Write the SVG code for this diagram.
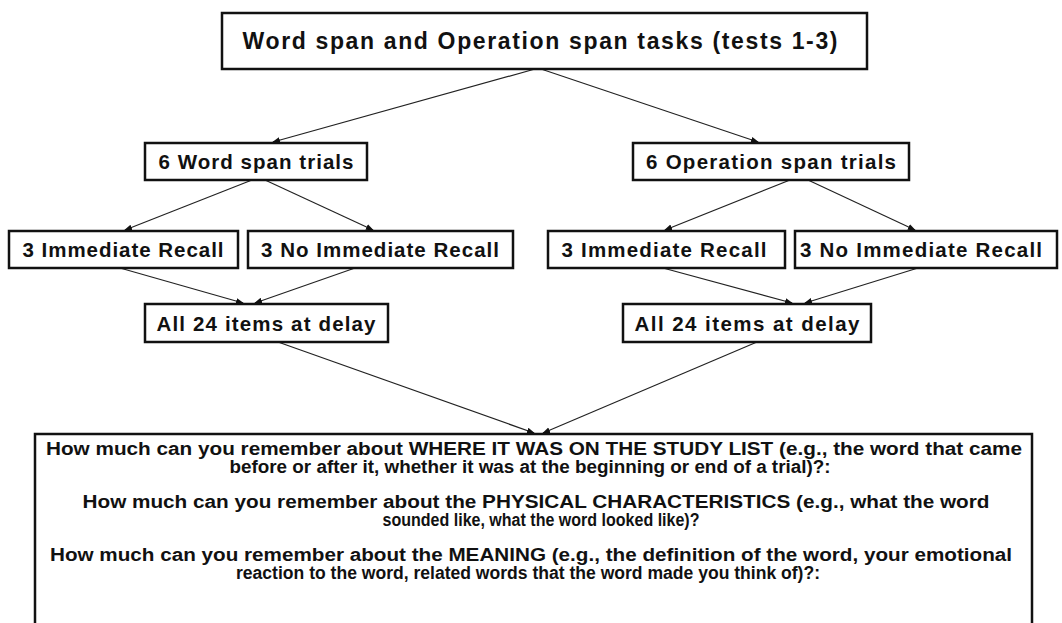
<svg xmlns="http://www.w3.org/2000/svg" width="1062" height="623" viewBox="0 0 1062 623">
<style>
.box{fill:#fff;stroke:#111;stroke-width:2.5}
.t{font-family:"Liberation Sans",Arial,sans-serif;font-weight:bold;fill:#111;text-anchor:middle}
.lbl{font-size:20.5px}
.q{font-size:17.5px}
.c{fill:none;stroke:#222;stroke-width:1.2;marker-end:url(#ah)}
</style>
<defs>
<marker id="ah" markerUnits="userSpaceOnUse" markerWidth="8" markerHeight="8" viewBox="0 0 8 8" refX="7" refY="4" orient="auto">
<path d="M0,1 L8,4 L0,7 Z" fill="#111"/>
</marker>
</defs>
<g id="connectors">
<line class="c" x1="535" y1="69" x2="273" y2="142"/>
<line class="c" x1="541" y1="69" x2="758" y2="142"/>
<line class="c" x1="252" y1="180" x2="125" y2="230"/>
<line class="c" x1="265" y1="180" x2="373" y2="230"/>
<line class="c" x1="790" y1="180" x2="665" y2="230"/>
<line class="c" x1="808" y1="180" x2="915" y2="230"/>
<line class="c" x1="120" y1="268" x2="243" y2="303"/>
<line class="c" x1="355" y1="268" x2="255" y2="303"/>
<line class="c" x1="663" y1="268" x2="792" y2="303"/>
<line class="c" x1="918" y1="268" x2="805" y2="303"/>
<line class="c" x1="278" y1="342" x2="534" y2="433"/>
<line class="c" x1="757" y1="342" x2="543" y2="433"/>
</g>
<g id="top">
<rect class="box" x="222" y="13" width="645" height="56"/>
<text class="t" x="540" y="49" font-size="23" textLength="595">Word span and Operation span tasks (tests 1-3)</text>
</g>
<g id="wordspan">
<rect class="box" x="145" y="143" width="222" height="37"/>
<text class="t lbl" x="256" y="169" textLength="195">6 Word span trials</text>
</g>
<g id="opspan">
<rect class="box" x="633" y="143" width="276" height="37"/>
<text class="t lbl" x="771" y="169" textLength="250">6 Operation span trials</text>
</g>
<g id="w-ir">
<rect class="box" x="9" y="231" width="229" height="37"/>
<text class="t lbl" x="123" y="257" textLength="201">3 Immediate Recall</text>
</g>
<g id="w-nir">
<rect class="box" x="248" y="231" width="265" height="37"/>
<text class="t lbl" x="380" y="257" textLength="238">3 No Immediate Recall</text>
</g>
<g id="o-ir">
<rect class="box" x="548" y="231" width="237" height="37"/>
<text class="t lbl" x="664" y="257" textLength="205">3 Immediate Recall</text>
</g>
<g id="o-nir">
<rect class="box" x="795" y="231" width="262" height="37"/>
<text class="t lbl" x="921" y="257" textLength="242">3 No Immediate Recall</text>
</g>
<g id="w-delay">
<rect class="box" x="145" y="304" width="243" height="38"/>
<text class="t lbl" x="266" y="331" textLength="219">All 24 items at delay</text>
</g>
<g id="o-delay">
<rect class="box" x="623" y="304" width="248" height="38"/>
<text class="t lbl" x="747" y="331" textLength="225">All 24 items at delay</text>
</g>
<g id="questions">
<rect class="box" x="35" y="434" width="997" height="200"/>
<text class="t q" x="534" y="455" textLength="976" lengthAdjust="spacingAndGlyphs">How much can you remember about WHERE IT WAS ON THE STUDY LIST (e.g., the word that came</text>
<text class="t q" x="530" y="473" textLength="601" lengthAdjust="spacingAndGlyphs">before or after it, whether it was at the beginning or end of a trial)?:</text>
<text class="t q" x="536" y="508" textLength="907" lengthAdjust="spacingAndGlyphs">How much can you remember about the PHYSICAL CHARACTERISTICS (e.g., what the word</text>
<text class="t q" x="541" y="526" textLength="317" lengthAdjust="spacingAndGlyphs">sounded like, what the word looked like)?</text>
<text class="t q" x="531" y="561" textLength="962" lengthAdjust="spacingAndGlyphs">How much can you remember about the MEANING (e.g., the definition of the word, your emotional</text>
<text class="t q" x="528" y="579" textLength="584" lengthAdjust="spacingAndGlyphs">reaction to the word, related words that the word made you think of)?:</text>
</g>
</svg>
